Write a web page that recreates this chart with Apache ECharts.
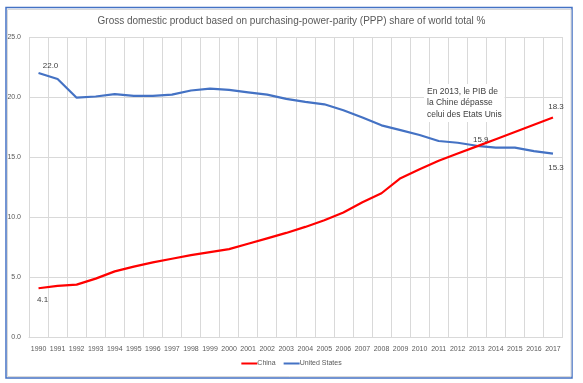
<!DOCTYPE html>
<html><head><meta charset="utf-8">
<script src="https://cdn.jsdelivr.net/npm/echarts@6/dist/echarts.min.js"></script>
<style>html,body{margin:0;padding:0;background:#fff}#c{width:583px;height:383px}</style>
</head><body><div id="c"></div>
<script>
const years = ['1990','1991','1992','1993','1994','1995','1996','1997','1998','1999','2000','2001','2002','2003','2004','2005','2006','2007','2008','2009','2010','2011','2012','2013','2014','2015','2016','2017'];
const china = [4.1,4.3,4.4,4.9,5.5,5.9,6.25,6.55,6.85,7.1,7.35,7.8,8.25,8.7,9.2,9.75,10.4,11.25,12.0,13.25,14.0,14.7,15.3,15.9,16.5,17.1,17.7,18.3];
const us = [22.0,21.5,19.95,20.05,20.25,20.1,20.1,20.2,20.55,20.7,20.6,20.4,20.2,19.85,19.6,19.4,18.9,18.3,17.65,17.25,16.85,16.35,16.2,15.95,15.8,15.8,15.5,15.3];
const yTicks = [0,5,10,15,20,25];
const titleText = 'Gross domestic product based on purchasing-power-parity (PPP) share of world total %';
const noteLines = ['En 2013, le PIB de','la Chine dépasse','celui des Etats Unis'];

const F = 'Liberation Sans, Arial, sans-serif';
const lbl = (pos, off) => ({show:true, position:pos, offset:off, color:'#404040', fontSize:8, fontFamily:F, formatter:p=>Number(p.value).toFixed(1)});
function mk(vals, labels){
  return vals.map((v,i)=> labels[i] ? {value:v, label:labels[i]} : {value:v});
}
const chinaData = mk(china, {0:lbl('bottom',[4,3]), 23:lbl('top',[4,2]), 27:lbl('top',[3,-2])});
const usData = mk(us, {0:lbl('top',[12,2]), 27:lbl('bottom',[3,5])});

const chart = echarts.init(document.getElementById('c'), null, {renderer:'canvas'});
chart.setOption({
  animation:false,
  backgroundColor:'#fff',
  title:{text:titleText, left:'center', top:11, textStyle:{fontSize:10, fontWeight:'normal', color:'#595959', fontFamily:F}},
  grid:{left:29, right:20.5, top:37, bottom:45.5, containLabel:false},
  legend:{bottom:11, left:'center', itemWidth:16, itemHeight:2, itemGap:8,
    icon:'rect', textStyle:{fontSize:7, color:'#595959', fontFamily:F, padding:[0,0,0,-5]},
    data:['China','United States']},
  xAxis:{type:'category', data:years, boundaryGap:true,
    axisLine:{show:true, lineStyle:{color:'#d9d9d9'}}, axisTick:{show:false},
    axisLabel:{interval:0, fontSize:7, color:'#595959', fontFamily:F, margin:8},
    splitLine:{show:true, interval:0, lineStyle:{color:'#d9d9d9', width:1}}},
  yAxis:{type:'value', min:yTicks[0], max:yTicks[yTicks.length-1], interval:5,
    axisLine:{show:false}, axisTick:{show:false},
    axisLabel:{fontSize:7, color:'#595959', fontFamily:F, margin:8, formatter:v=>v.toFixed(1)},
    splitLine:{show:true, lineStyle:{color:'#d9d9d9', width:1}}},
  series:[
    {name:'China', type:'line', data:chinaData, symbol:'circle', symbolSize:0.01, showSymbol:true, label:{show:false}, lineStyle:{color:'#ff0000', width:2.2}, itemStyle:{color:'#ff0000'}, z:3},
    {name:'United States', type:'line', data:usData, symbol:'circle', symbolSize:0.01, showSymbol:true, label:{show:false}, lineStyle:{color:'#4472c4', width:2.2}, itemStyle:{color:'#4472c4'}, z:2}
  ],
  graphic:[
    {type:'rect', shape:{x:6, y:7.5, width:566, height:370.5}, style:{fill:'none', stroke:'#4472c4', lineWidth:1.5}, silent:true},
    {type:'rect', shape:{x:7.5, y:9.5, width:563.5, height:367}, style:{fill:'none', stroke:'#d9d9d9', lineWidth:1}, silent:true},
    {type:'text', left:424, top:84, z:10, style:{text:noteLines.join('\n'), fontSize:8.5, lineHeight:11.3, fill:'#404040', fontFamily:F, backgroundColor:'#fff', padding:[2,3,2,3]}}
  ]
});
</script></body></html>
